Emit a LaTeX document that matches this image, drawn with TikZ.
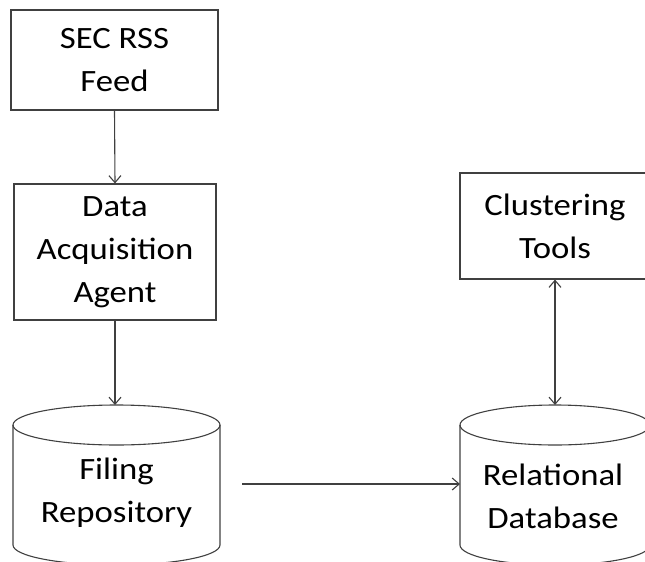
\documentclass[tikz,border=0pt]{standalone}
\usepackage{fontspec}
\setmainfont{Carlito}[FakeStretch=1.12]
\usetikzlibrary{arrows.meta}
\begin{document}
\begin{tikzpicture}[x=1pt,y=-1pt,
  ln/.style={draw=black!75, line width=1.1pt},
  lbl/.style={align=center, inner sep=0pt, font=\fontsize{31}{43}\selectfont},
  boxnode/.style={ln, rectangle, lbl},
  arr/.style={ln, -{Straight Barb[length=7pt,width=12pt]}},
  darr/.style={ln, {Straight Barb[length=7pt,width=12pt]}-{Straight Barb[length=7pt,width=12pt]}},
]
\useasboundingbox (0,0) rectangle (645,562);
\clip (0,0) rectangle (645,562);

% boxes
\node[boxnode, minimum width=207pt, minimum height=100pt] (feed) at (114.5,60) {SEC RSS\\Feed};
\node[boxnode, minimum width=202pt, minimum height=136pt] (agent) at (115,252) {Data\\Acquisition\\Agent};
\node[boxnode, minimum width=190pt, minimum height=106pt] (clust) at (555,226) {Clustering\\Tools};

% filing repository cylinder
\draw[ln] (116.5,425) ellipse [x radius=103.5pt, y radius=20pt];
\draw[ln] (13,425) -- (13,545) arc[start angle=180, end angle=360, x radius=103.5pt, y radius=20pt] -- (220,425);
\node[lbl] (repo) at (116.5,493) {Filing\\Repository};
\coordinate (repotop) at (115,405);
\coordinate (hstart) at (242,484);

% relational database cylinder
\draw[ln] (555,425) ellipse [x radius=95pt, y radius=20pt];
\draw[ln] (460,425) -- (460,545) arc[start angle=180, end angle=360, x radius=95pt, y radius=20pt] -- (650,425);
\node[lbl] (rdb) at (553,496) {Relational\\Database};
\coordinate (rdbtop) at (555,405);
\coordinate (rdbleft) at (460,484);

% connectors
\draw[arr] (feed.south) -- (agent.north);
\draw[arr] (agent.south) -- (repotop);
\draw[arr] (hstart) -- (rdbleft);
\draw[darr] (clust.south) -- (rdbtop);
\end{tikzpicture}
\end{document}
